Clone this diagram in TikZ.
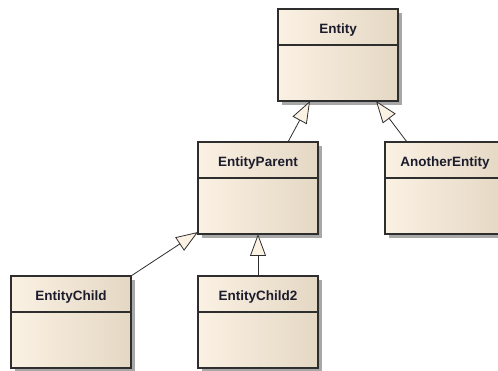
\documentclass[tikz,border=0pt]{standalone}
\usepackage{fontspec}
\setmainfont{Liberation Sans}
\usetikzlibrary{arrows.meta,calc}
\definecolor{boxL}{HTML}{FBF1E3}
\definecolor{boxR}{HTML}{E4D8C4}
\definecolor{edge}{HTML}{2E2E2E}
\definecolor{shad}{HTML}{A8A8A8}
\definecolor{tri}{HTML}{FBF2E4}
\definecolor{txt}{HTML}{1C1C2C}
\tikzset{
  cls/.style={rectangle, minimum width=120pt, minimum height=92pt, inner sep=0pt, outer sep=0pt},
  clsbody/.style={draw=edge, line width=1.2pt, left color=boxL, right color=boxR},
  clsshadow/.style={fill=shad},
  clsname/.style={font=\bfseries\fontsize{13.5}{15}\selectfont, text=txt, anchor=base, inner sep=0pt},
  gen/.style={draw=edge, line width=0.8pt, -{Triangle[open, length=22pt, width=16pt, fill=tri, line width=0.8pt]}},
}
\newcommand{\umlclass}[4]{% name, x-left, y-top, label
  \fill[clsshadow] (#2+4,#3+4) rectangle ++(120,92);
  \node[cls, clsbody, anchor=north west] (#1) at (#2,#3) {};
  \draw[edge, line width=1.2pt] ($(#1.north west)+(0,36)$) -- ($(#1.north east)+(0,36)$);
  \node[clsname] at ($(#1.north)+(0,24.5)$) {#4};
}
\begin{document}
\begin{tikzpicture}[x=1pt, y=-1pt]
\useasboundingbox (0,0) rectangle (498,371);
\begin{scope}
\clip (0,0) rectangle (498,371);
\umlclass{entity}{278}{9}{Entity}
\umlclass{parent}{198}{142}{EntityParent}
\umlclass{another}{385}{142}{AnotherEntity}
\umlclass{child}{11}{276}{EntityChild}
\umlclass{childtwo}{198}{276}{EntityChild2}
\draw[gen] ($(parent.north west)+(90,0)$) -- ($(entity.south west)+(32,0)$);
\draw[gen] ($(another.north west)+(22,0)$) -- ($(entity.south west)+(98,0)$);
\draw[gen] (child.north east) -- ($(parent.south west)+(0,-2)$);
\draw[gen] (childtwo.north) -- ($(parent.south west)+(60,0)$);
\end{scope}
\end{tikzpicture}
\end{document}
